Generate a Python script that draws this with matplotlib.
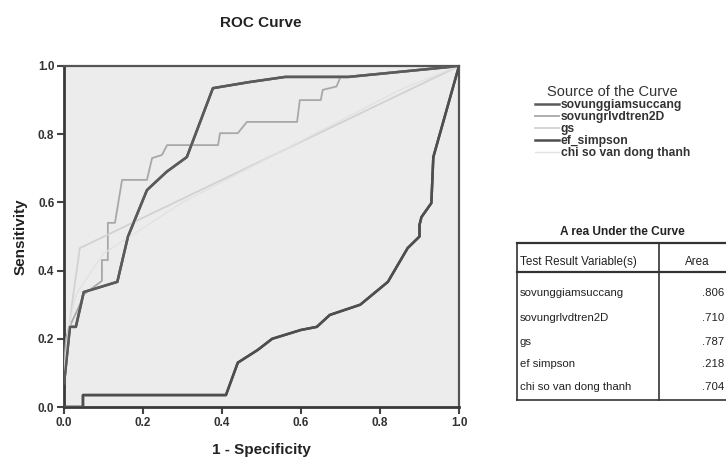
import numpy as np
import matplotlib
matplotlib.use('Agg')
import matplotlib.pyplot as plt

plt.rcParams['font.family'] = ['Liberation Sans', 'DejaVu Sans']

# --- data ---
names = ['sovunggiamsuccang', 'sovungrlvdtren2D', 'gs', 'ef_simpson', 'chi so van dong thanh']
table_names = ['sovunggiamsuccang', 'sovungrlvdtren2D', 'gs', 'ef simpson', 'chi so van dong thanh']
areas = ['.806', '.710', '.787', '.218', '.704']

fpr_giam = [0.0, 0.003, 0.015, 0.03, 0.05, 0.135, 0.162, 0.21, 0.26, 0.311, 0.377, 0.47, 0.56, 0.72, 1.0]
tpr_giam = [0.07, 0.10, 0.235, 0.235, 0.337, 0.367, 0.5, 0.636, 0.69, 0.733, 0.935, 0.953, 0.968, 0.968, 1.0]

fpr_rlv = [0.0, 0.005, 0.012, 0.02, 0.04, 0.05, 0.096, 0.096, 0.111, 0.111, 0.129, 0.147, 0.21, 0.223,
           0.248, 0.261, 0.39, 0.395, 0.44, 0.463, 0.59, 0.597, 0.65, 0.655, 0.69, 0.70, 0.72, 1.0]
tpr_rlv = [0.12, 0.2, 0.23, 0.25, 0.30, 0.33, 0.37, 0.431, 0.431, 0.54, 0.54, 0.666, 0.666, 0.73,
           0.739, 0.768, 0.768, 0.803, 0.803, 0.836, 0.836, 0.9, 0.9, 0.93, 0.94, 0.968, 0.968, 1.0]

fpr_gs = [0.0, 0.003, 0.02, 0.04, 1.0]
tpr_gs = [0.08, 0.12, 0.30, 0.466, 1.0]

fpr_ef = [0.0, 0.048, 0.048, 0.41, 0.44, 0.49, 0.527, 0.6, 0.64, 0.673, 0.75, 0.82, 0.87, 0.9, 0.9,
          0.905, 0.93, 0.935, 1.0]
tpr_ef = [0.0, 0.0, 0.035, 0.035, 0.13, 0.167, 0.2, 0.226, 0.235, 0.27, 0.3, 0.367, 0.466, 0.5, 0.534,
          0.557, 0.598, 0.733, 1.0]

fpr_chi = [0.0, 0.01, 0.03, 0.1, 0.3, 0.6, 0.85, 1.0]
tpr_chi = [0.1, 0.22, 0.33, 0.45, 0.60, 0.78, 0.93, 1.0]

curves = [(fpr_giam, tpr_giam), (fpr_rlv, tpr_rlv), (fpr_gs, tpr_gs), (fpr_ef, tpr_ef), (fpr_chi, tpr_chi)]
colors = ['#5a5a5a', '#a8a8a8', '#d2d2d2', '#4e4e4e', '#e2e2e2']
widths = [1.8, 1.3, 1.3, 1.8, 1.0]

fig = plt.figure(figsize=(7.26, 4.57), dpi=100, facecolor='w')
ax = fig.add_axes([64/726, 50/457, 395/726, 341/457])
ax.set_facecolor('#ececec')

handles = []
for (x, y), c, lw, nm in zip(curves, colors, widths, names):
    h, = ax.plot(x, y, color=c, lw=lw, label=nm, zorder=3)
    handles.append(h)
# dark ones on top
for i in (0, 3):
    ax.plot(curves[i][0], curves[i][1], color=colors[i], lw=widths[i], zorder=4)

ax.set_xlim(0, 1)
ax.set_ylim(0, 1)
ticks = np.arange(0, 1.01, 0.2)
ax.set_xticks(ticks)
ax.set_yticks(ticks)
ax.set_xticklabels(['%.1f' % t for t in ticks])
ax.set_yticklabels(['%.1f' % t for t in ticks])
ax.tick_params(direction='out', length=5, width=1.5, color='#444444', labelsize=8.5,
               labelcolor='#333333', pad=2)
for lab in ax.get_xticklabels() + ax.get_yticklabels():
    lab.set_fontweight('bold')
for s in ['left', 'bottom']:
    ax.spines[s].set_linewidth(2)
    ax.spines[s].set_color('#3a3a3a')
for s in ['top', 'right']:
    ax.spines[s].set_linewidth(1.6)
    ax.spines[s].set_color('#555555')

ax.set_xlabel('1 - Specificity', fontsize=11, fontweight='bold', color='#222222', labelpad=10)
ax.set_ylabel('Sensitivity', fontsize=11, fontweight='bold', color='#222222', labelpad=7)
fig.text(261/726, 1 - 23/457, 'ROC Curve', fontsize=11, fontweight='bold', color='#222222',
         ha='center', va='center')

leg = fig.legend(handles=handles, labels=names, loc='upper left',
                 bbox_to_anchor=(530/726, 1 - 80/457), bbox_transform=fig.transFigure,
                 frameon=False, handlelength=2.0, handletextpad=0.15, labelspacing=0.0,
                 prop={'size': 8.7, 'weight': 'bold'}, title='Source of the Curve',
                 title_fontsize=10.5, borderaxespad=0)
leg.get_title().set_color('#333333')
for t in leg.get_texts():
    t.set_color('#333333')

# Area Under the Curve table, drawn in pixel space
tab = fig.add_axes([0, 0, 1, 1])
tab.set_xlim(0, 726)
tab.set_ylim(457, 0)
tab.axis('off')
tab.patch.set_alpha(0)
tab.text(622, 232, 'A rea Under the Curve', fontsize=8.6, fontweight='bold', ha='center', va='center',
         color='#222222')
L, R, T, H, B, C = 517, 730, 243, 272, 400, 659
tab.plot([L, R], [T, T], color='#333333', lw=1.6)
tab.plot([L, R], [H, H], color='#333333', lw=1.6)
tab.plot([L, R], [B, B], color='#333333', lw=1.2)
tab.plot([L, L], [T, B], color='#333333', lw=1.2)
tab.plot([C, C], [T, B], color='#333333', lw=1.2)
tab.text(520, 262, 'Test Result Variable(s)', fontsize=8.4, ha='left', va='center', color='#222222')
tab.text(697, 262, 'Area', fontsize=8.4, ha='center', va='center', color='#222222')
row_y = [293, 318, 342, 364, 387]
for yy, nm, a in zip(row_y, table_names, areas):
    tab.text(520, yy, nm, fontsize=8.2, ha='left', va='center', color='#222222')
    tab.text(724, yy, a, fontsize=8.2, ha='right', va='center', color='#222222')

fig.savefig('out.png', dpi=100)
